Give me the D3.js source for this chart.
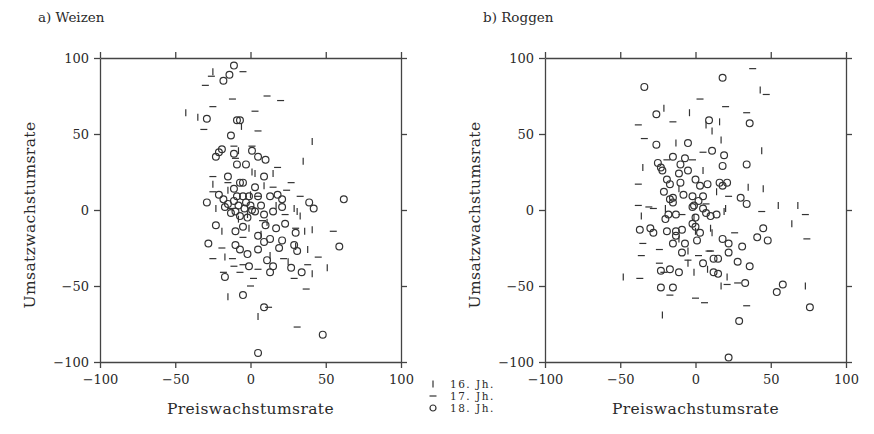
<!DOCTYPE html>
<html>
<head>
<meta charset="utf-8">
<script src="https://cdn.jsdelivr.net/npm/d3@7"></script>
<style>
  body { margin: 0; background: #fff; }
  text { font-family: "DejaVu Serif", "Liberation Serif", serif; fill: #2a2a2a; }
  .axis path, .axis line { stroke: #444; stroke-width: 1.3; }
  .axis text { font-size: 13px; fill: #2a2a2a; }
</style>
</head>
<body>
<div id="chart"></div>
<script>
// Data: [Preiswachstumsrate, Umsatzwachstumsrate]
var tickValues = [-100, -50, 0, 50, 100];
var centuries = ["16. Jh.", "17. Jh.", "18. Jh."];
var panelTitles = ["a) Weizen", "b) Roggen"];

var weizen16 = [[-43,64],[-35,61],[-6,55],[41,45],[35,32],[-25,91],[-8,39],[1,25],[15,24],[-25,17],
  [-15,13],[29,1],[31,-1],[-23,1],[36,-14],[41,-13],[30,-24],[-17,-31],[38,-26],[-1,-12],
  [-15,-57],[5,-70],[51,-38],[41,-42],[25,-34],[9,16],[3,24],[33,-4],[17,3],[-2,-3],
  [-8,-6],[7,-16],[13,-30],[-19,-14],[0,10],[11,-8]];
var weizen17 = [[-26,88],[-30,82],[-5,91],[-12,73],[11,75],[20,72],[-25,68],[3,65],[-31,53],[5,52],
  [-11,42],[1,42],[-10,34],[18,28],[-25,22],[-15,18],[27,18],[-25,12],[33,9],[24,13],
  [55,-14],[-19,-25],[-25,-32],[-12,-32],[-5,-36],[22,-32],[45,-31],[30,-12],[-11,-37],[5,-39],
  [-7,-41],[-18,-41],[38,-36],[2,-45],[29,-45],[37,-52],[12,-64],[31,-77],[0,-50],[15,15],
  [5,9],[-13,1],[8,-7],[23,-3],[-5,-18]];
var weizen18 = [[-11,95],[-14,89],[-18,85],[-29,60],[-9,59],[-7,59],[-13,49],[-19,40],[-21,38],[-23,35],
  [-11,37],[1,39],[5,35],[10,33],[-9,30],[-3,30],[-15,22],[-7,18],[-5,18],[9,22],
  [-29,5],[-21,10],[-18,7],[-17,2],[-11,6],[-10,-1],[-5,9],[-1,9],[0,3],[5,9],
  [3,-1],[9,-3],[13,9],[18,10],[21,7],[15,-1],[21,2],[39,5],[42,1],[62,7],
  [-23,-10],[-10,-14],[-5,-11],[10,-10],[17,-12],[23,-9],[30,-15],[5,-17],[9,-21],[13,-19],
  [21,-20],[-28,-22],[-10,-23],[-7,-26],[-2,-29],[5,-26],[19,-25],[29,-23],[31,-27],[59,-24],
  [-1,-37],[11,-33],[15,-37],[27,-38],[13,-41],[34,-41],[-17,-44],[-5,-56],[9,-64],[48,-82],
  [5,-94],[-15,4],[-8,3],[-3,5],[1,0],[-13,-2],[-7,-4],[-2,-5],[-9,9],[7,3],
  [-4,1],[-11,14],[3,15]];

var roggen16 = [[43,79],[-21,67],[-4,64],[16,58],[11,52],[7,56],[-13,44],[17,46],[44,39],[-35,28],
  [5,26],[14,12],[35,15],[45,14],[55,3],[68,3],[20,1],[-20,1],[-36,-4],[64,-9],
  [-48,-44],[-22,-69],[17,-50],[73,-50],[21,-44],[0,-14],[-11,-19],[11,-15],[-5,-35],[-1,-41],
  [19,-1],[-11,14],[-1,-5],[10,-12],[-5,-27],[8,-39]];
var roggen17 = [[38,93],[47,76],[3,73],[20,68],[34,64],[-38,56],[-15,58],[-34,47],[5,38],[-2,33],
  [-38,17],[-19,33],[-38,3],[-31,2],[44,-1],[73,-3],[74,-19],[26,-15],[-35,-22],[-36,-30],
  [-24,-26],[-24,-35],[-37,-45],[-17,-56],[0,-58],[6,-61],[34,-63],[21,-49],[9,-27],[-5,-33],
  [2,-30],[-21,-41],[28,-48],[-28,1],[-9,-3],[7,4],[22,9],[10,-27]];
var roggen18 = [[18,87],[-34,81],[-26,63],[9,59],[36,57],[-26,43],[-5,44],[11,39],[19,36],[18,29],
  [34,30],[-25,31],[-23,28],[-22,26],[-15,35],[-7,34],[-10,30],[-5,26],[-11,24],[-19,20],
  [-17,17],[-10,18],[0,20],[3,16],[8,17],[16,18],[21,18],[18,16],[-21,12],[-15,8],
  [-8,10],[-2,9],[5,9],[30,8],[34,4],[-15,5],[-1,3],[5,1],[-17,7],[2,6],
  [-2,2],[-18,-3],[-13,-3],[0,-5],[7,-2],[10,-4],[14,-3],[-20,-6],[-2,-9],[0,-11],
  [-37,-13],[-30,-12],[-28,-15],[-19,-14],[-13,-14],[-9,-13],[-13,-17],[3,-15],[1,-20],[-15,-22],
  [-7,-22],[18,-19],[22,-22],[31,-24],[45,-12],[41,-18],[48,-20],[-9,-28],[22,-28],[12,-32],
  [15,-32],[28,-34],[36,-37],[5,-35],[-23,-40],[-17,-39],[-11,-41],[12,-41],[15,-42],[33,-48],
  [-23,-51],[-15,-51],[29,-73],[22,-97],[58,-49],[54,-54],[76,-64]];

var panels = [
  { title: panelTitles[0], left: 100, s16: weizen16, s17: weizen17, s18: weizen18 },
  { title: panelTitles[1], left: 545, s16: roggen16, s17: roggen17, s18: roggen18 }
];

var svgWidth = 874;
var svgHeight = 434;
var plotTop = 58;
var plotW = 301;
var plotH = 304;

var svg = d3.select("#chart")
  .append("svg")
  .attr("width", svgWidth)
  .attr("height", svgHeight);

function fmt(d) {
  return d < 0 ? "\u2212" + Math.abs(d) : d;
}

panels.forEach(function(p) {
  var g = svg.append("g")
    .attr("transform", `translate(${p.left}, ${plotTop})`);

  var x = d3.scaleLinear().domain([-100, 100]).range([0, plotW]);
  var y = d3.scaleLinear().domain([-100, 100]).range([plotH, 0]);

  // frame with ticks on all four sides
  g.append("g").attr("class", "axis")
    .attr("transform", `translate(0, ${plotH})`)
    .call(d3.axisBottom(x).tickValues(tickValues).tickSize(6).tickSizeOuter(0).tickPadding(7).tickFormat(fmt));
  g.append("g").attr("class", "axis")
    .call(d3.axisLeft(y).tickValues(tickValues).tickSize(6).tickSizeOuter(0).tickPadding(5).tickFormat(fmt));
  g.append("g").attr("class", "axis")
    .call(d3.axisTop(x).tickValues(tickValues).tickSize(6).tickSizeOuter(0).tickFormat(""));
  g.append("g").attr("class", "axis")
    .attr("transform", `translate(${plotW}, 0)`)
    .call(d3.axisRight(y).tickValues(tickValues).tickSize(6).tickSizeOuter(0).tickFormat(""));

  // 16. Jh. : vertical strokes
  g.append("g").selectAll("line")
    .data(p.s16).enter().append("line")
    .attr("x1", d => x(d[0])).attr("x2", d => x(d[0]))
    .attr("y1", d => y(d[1]) - 3.5).attr("y2", d => y(d[1]) + 3.5)
    .attr("stroke", "#333").attr("stroke-width", 1.2);

  // 17. Jh. : horizontal strokes
  g.append("g").selectAll("line")
    .data(p.s17).enter().append("line")
    .attr("x1", d => x(d[0]) - 3.5).attr("x2", d => x(d[0]) + 3.5)
    .attr("y1", d => y(d[1])).attr("y2", d => y(d[1]))
    .attr("stroke", "#333").attr("stroke-width", 1.2);

  // 18. Jh. : circles
  g.append("g").selectAll("circle")
    .data(p.s18).enter().append("circle")
    .attr("cx", d => x(d[0])).attr("cy", d => y(d[1]))
    .attr("r", 3.4)
    .attr("fill", "none").attr("stroke", "#333").attr("stroke-width", 1.2);

  // labels
  svg.append("text")
    .attr("x", p.left - 62).attr("y", 22)
    .style("font-size", "13.5px")
    .text(p.title);

  svg.append("text")
    .attr("x", p.left + plotW / 2).attr("y", 414)
    .attr("text-anchor", "middle")
    .style("font-size", "15.5px")
    .style("letter-spacing", "0.4px")
    .text("Preiswachstumsrate");

  svg.append("text")
    .attr("transform", `translate(${p.left - 65}, ${plotTop + plotH / 2 + 5}) rotate(-90)`)
    .attr("text-anchor", "middle")
    .style("font-size", "15.5px")
    .style("letter-spacing", "0.4px")
    .text("Umsatzwachstumsrate");
});

// legend
var legend = svg.append("g").attr("transform", "translate(433, 384)");
centuries.forEach(function(c, i) {
  var row = legend.append("g").attr("transform", `translate(0, ${i * 12})`);
  if (i === 0) {
    row.append("line").attr("x1", 0).attr("x2", 0).attr("y1", -3.5).attr("y2", 3.5)
      .attr("stroke", "#333").attr("stroke-width", 1.2);
  } else if (i === 1) {
    row.append("line").attr("x1", -3.5).attr("x2", 3.5).attr("y1", 0).attr("y2", 0)
      .attr("stroke", "#333").attr("stroke-width", 1.2);
  } else {
    row.append("circle").attr("r", 3).attr("fill", "none")
      .attr("stroke", "#333").attr("stroke-width", 1.2);
  }
  row.append("text").attr("x", 17).attr("y", 4)
    .style("font-size", "10.5px")
    .style("letter-spacing", "1.5px")
    .text(c);
});
</script>
</body>
</html>
